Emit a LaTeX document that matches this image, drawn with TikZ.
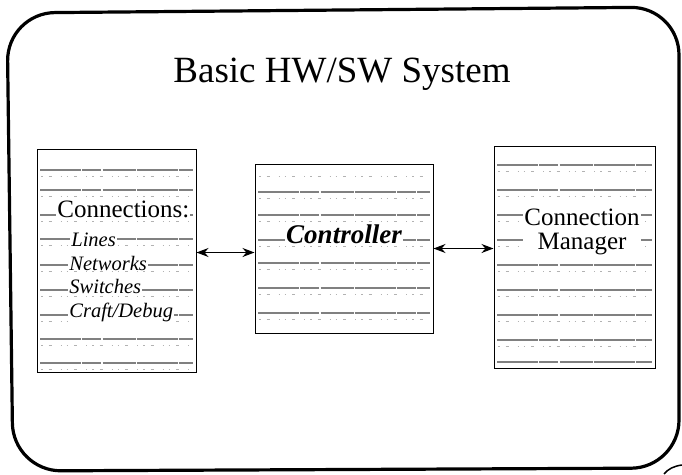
\documentclass[tikz,border=0pt]{standalone}
\usepackage{fontspec}
\setmainfont{Liberation Serif}
\usetikzlibrary{arrows.meta}
\usetikzlibrary{positioning}

\begin{document}
\begin{tikzpicture}[x=1pt,y=-1pt,<->,>={Stealth[length=12pt,width=9pt]},thick,
    block/.style={-,draw,line width=1pt,inner sep=0pt},
    label text/.style={inner sep=1pt,fill=white},
    stripe/.style={-,black!50,line width=2.6pt,dash pattern=on 41pt off 1pt on 19pt off 1.5pt on 33pt off 1pt},
    fleck/.style={-,black!30,line width=1pt,dash pattern=on 1.5pt off 6pt on 3pt off 9pt on 1pt off 5pt}]
  \useasboundingbox (0,0) rectangle (682,474);

  % slide frame and heading
  \draw[-,line width=3.2pt,rounded corners=48pt] (343,10) -- (679,7) -- (679,468) -- (13,471) -- (7,13) -- cycle;
  \draw[-,line width=1.5pt] (664,474) .. controls (668,469) and (674,466) .. (682,465);
  \node (title) at (342,82) [anchor=base,font=\fontsize{37}{40}\selectfont] {Basic HW/SW System};

  % grey bands behind the three blocks
  \foreach \y in {170,190,215,239,265,290,315,339,363} {
    \draw[stripe] (40,\y) -- (193,\y);
    \draw[fleck] (41,\y+6) -- (192,\y+6);
  }
  \foreach \y in {192,215,240,263,288,313} {
    \draw[stripe] (258,\y) -- (430,\y);
    \draw[fleck] (259,\y+6) -- (429,\y+6);
  }
  \draw[fleck] (259,176) -- (429,176);
  \foreach \y in {165,190,215,240,265,290,315,340,362} {
    \draw[stripe] (497,\y) -- (652,\y);
    \draw[fleck] (498,\y+6) -- (651,\y+6);
  }

  % blocks
  \node[block,minimum width=159pt,minimum height=223pt] (conn) at (116.5,260.5) {};
  \node[block,minimum width=178pt,minimum height=169pt] (ctrl) at (344,248.5) {};
  \node[block,minimum width=161pt,minimum height=222pt] (mgr) at (574.5,257) {};

  % block texts
  \node[label text,anchor=base west,font=\fontsize{25}{28}\selectfont] (connhead) at (56,217) {Connections:};
  \node[label text,anchor=base west,font=\fontsize{20.5}{22}\selectfont\itshape] (lines) at (70,246) {Lines};
  \node[label text,anchor=base west,font=\fontsize{20.5}{22}\selectfont\itshape] (networks) at (68,270) {Networks};
  \node[label text,anchor=base west,font=\fontsize{20.5}{22}\selectfont\itshape] (switches) at (68,293) {Switches};
  \node[label text,anchor=base west,font=\fontsize{20.5}{22}\selectfont\itshape] (craft) at (68,317) {Craft/Debug};
  \node[label text,anchor=base,font=\fontsize{27}{30}\selectfont\bfseries\itshape] (ctrltext) at (344,243) {Controller};
  \node[label text,align=center,font=\fontsize{25}{24}\selectfont] (mgrtext) at (582,232) {Connection\\Manager};

  % links between the blocks
  \draw[line width=1.3pt] ([yshift=-4pt]ctrl.west -| conn.east) -- ([yshift=-4pt]ctrl.west);
  \draw[line width=1.3pt] (ctrl.east) -- (ctrl.east -| mgr.west);
\end{tikzpicture}
\end{document}
